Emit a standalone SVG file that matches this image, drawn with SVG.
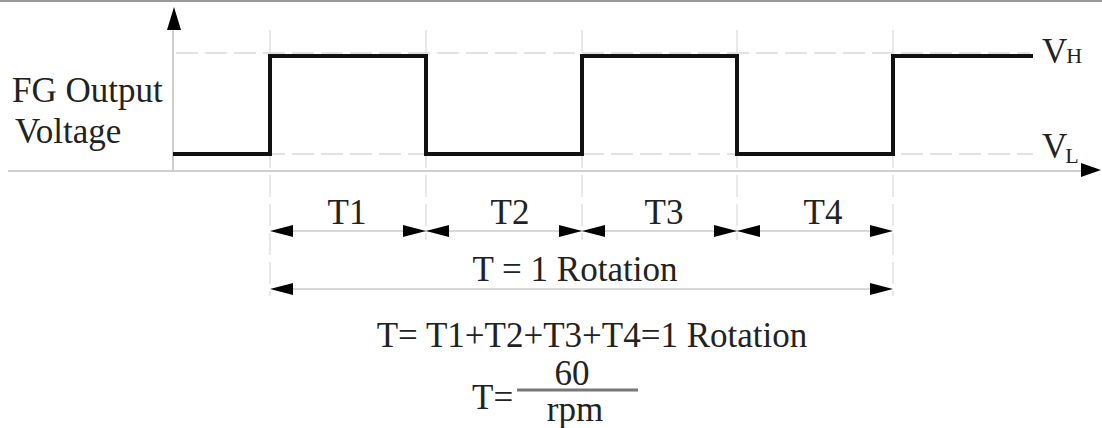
<svg xmlns="http://www.w3.org/2000/svg" width="1102" height="428" viewBox="0 0 1102 428">
<defs>
<style>
.t{font-family:'Liberation Serif','DejaVu Serif','Times New Roman',Times,serif;fill:#222;font-size:35px;}
.c{text-anchor:middle;}
.axis{stroke:#cfcfcf;stroke-width:2;fill:none;}
.dash{stroke:#d9d9d9;stroke-width:1.5;stroke-dasharray:22 7;fill:none;}
.vdash{stroke:#dadada;stroke-width:1.2;stroke-dasharray:22 7;fill:none;}
.sig{stroke:#111;stroke-width:4;fill:none;stroke-linejoin:miter;}
.dim{stroke:#d8d8d8;stroke-width:2;fill:none;}
.ah{fill:#000;}
</style>
</defs>
<rect width="1102" height="428" fill="#fff"/>
<line x1="0" y1="1" x2="1102" y2="1" stroke="#999" stroke-width="2"/>
<g id="axes">
<line class="axis" x1="173" y1="26" x2="173" y2="171"/>
<polygon class="ah" points="174,7 167,30 181,30"/>
<line class="axis" x1="8" y1="171" x2="1084" y2="171"/>
<polygon class="ah" points="1101,170 1081,163 1081,177"/>
</g>
<g id="guides">
<line class="dash" x1="176" y1="53" x2="1030" y2="53"/>
<line class="dash" x1="176" y1="154" x2="1033" y2="154"/>
<line class="vdash" x1="270" y1="30" x2="270" y2="296"/>
<line class="vdash" x1="426" y1="30" x2="426" y2="240"/>
<line class="vdash" x1="582" y1="30" x2="582" y2="240"/>
<line class="vdash" x1="737" y1="30" x2="737" y2="240"/>
<line class="vdash" x1="893" y1="30" x2="893" y2="296"/>
</g>
<g id="signal">
<polyline class="sig" points="173,154 270,154 270,56 426,56 426,154 582,154 582,56 737,56 737,154 893,154 893,56 1033,56"/>
</g>
<g id="labels">
<text class="t" x="12" y="102">FG Output</text>
<text class="t" x="15" y="143">Voltage</text>
<text class="t" x="1042" y="63">V<tspan font-size="22" dx="-1">H</tspan></text>
<text class="t" x="1042" y="158">V<tspan font-size="22" dx="-2" dy="5">L</tspan></text>
</g>
<g id="connectors">
<line class="dim" x1="280" y1="231" x2="884" y2="231"/>
<polygon class="ah" points="270,231 293,225 293,237"/>
<polygon class="ah" points="426,231 403,225 403,237"/>
<polygon class="ah" points="426,231 449,225 449,237"/>
<polygon class="ah" points="582,231 559,225 559,237"/>
<polygon class="ah" points="582,231 605,225 605,237"/>
<polygon class="ah" points="737,231 714,225 714,237"/>
<polygon class="ah" points="737,231 760,225 760,237"/>
<polygon class="ah" points="893,231 870,225 870,237"/>
<line class="dim" x1="280" y1="289" x2="884" y2="289"/>
<polygon class="ah" points="270,289 293,283 293,295"/>
<polygon class="ah" points="893,289 870,283 870,295"/>
</g>
<g id="segments">
<text class="t c" x="347" y="224">T1</text>
<text class="t c" x="510" y="224">T2</text>
<text class="t c" x="664" y="224">T3</text>
<text class="t c" x="823" y="224">T4</text>
<text class="t c" x="575" y="281">T = 1 Rotation</text>
</g>
<g id="formula">
<text class="t c" x="592" y="347">T= T1+T2+T3+T4=1 Rotation</text>
<text class="t" x="472" y="409">T=</text>
<text class="t c" x="572" y="385" font-size="32">60</text>
<line x1="517" y1="390" x2="638" y2="390" stroke="#777" stroke-width="3"/>
<text class="t c" x="575" y="421">rpm</text>
</g>
</svg>
